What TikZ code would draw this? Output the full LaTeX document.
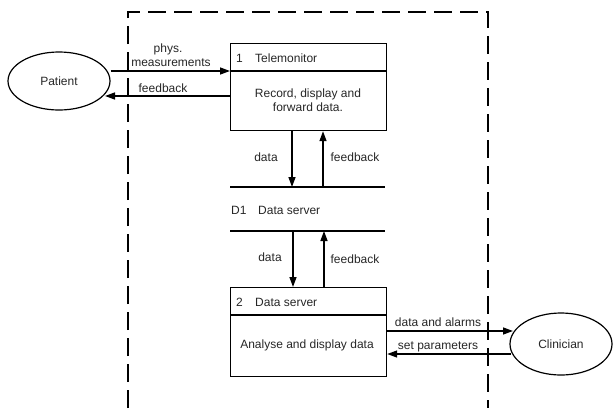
\documentclass[tikz,border=0pt]{standalone}
\usepackage{fontspec}
\setmainfont{Liberation Sans}
\usetikzlibrary{arrows.meta,shapes.geometric}
\begin{document}
\begin{tikzpicture}[x=1pt,y=-1pt,
  every node/.style={font=\fontsize{12}{14}\selectfont, text=black!85},
  ent/.style={draw, ellipse, line width=1.2pt, minimum width=102pt, minimum height=58pt, inner sep=0pt},
  proc/.style={draw, line width=1.2pt},
  flow/.style={line width=1.4pt, -{Triangle[length=10pt,width=7pt]}},
  lbl/.style={inner sep=0pt, anchor=base}]
\useasboundingbox (0,0) rectangle (613,408);
% system boundary
\draw[line width=1.4pt, dash pattern=on 18pt off 8pt] (128,408) -- (128,12) -- (488,12) -- (488,408);
% entities
\node[ent] (patient) at (59,81) {Patient};
\node[ent, minimum height=62pt] (clinician) at (561,344) {Clinician};
% process 1
\node[proc, minimum width=156pt, minimum height=87pt, anchor=north west] (p1) at (230,43) {};
\draw[line width=1.2pt] (230,71) -- (386,71);
\node[lbl, anchor=base west] (p1n) at (236,62) {1};
\node[lbl, anchor=base west] (p1t) at (255,62) {Telemonitor};
\node[align=center, inner sep=0pt] (p1b) at (308,100) {Record, display and\\forward data.};
% data store
\coordinate (d1a) at (230,187);
\coordinate (d1b) at (385,187);
\coordinate (d1c) at (230,231);
\coordinate (d1d) at (385,231);
\draw[line width=1.4pt] (d1a) -- (d1b);
\draw[line width=1.4pt] (d1c) -- (d1d);
\node[lbl, anchor=base west] (d1n) at (231,214) {D1};
\node[lbl, anchor=base west] (d1t) at (258,214) {Data server};
% process 2
\node[proc, minimum width=156pt, minimum height=89pt, anchor=north west] (p2) at (230,287) {};
\draw[line width=1.2pt] (230,315) -- (386,315);
\node[lbl, anchor=base west] (p2n) at (236,306) {2};
\node[lbl, anchor=base west] (p2t) at (255,306) {Data server};
\node[inner sep=0pt] (p2b) at (307,345) {Analyse and display data};
% flows patient <-> p1
\draw[flow] (patient.east |- 0,71) -- (p1.west |- 0,71);
\draw[flow] (p1.west |- 0,96) -- (105,96);
\node[lbl] (l1a) at (168,52) {phys.};
\node[lbl] (l1b) at (171,66) {measurements};
\node[lbl] (l2) at (163,92) {feedback};
% flows p1 <-> store
\draw[flow] (p1.south -| 292,0) -- (292,187);
\draw[flow] (323,187) -- (p1.south -| 323,0);
\node[lbl] (l3) at (266,161) {data};
\node[lbl] (l4) at (355,161) {feedback};
% flows store <-> p2
\draw[flow] (293,231) -- (p2.north -| 293,0);
\draw[flow] (p2.north -| 324,0) -- (324,231);
\node[lbl] (l5) at (270,261) {data};
\node[lbl] (l6) at (355,263) {feedback};
% flows p2 <-> clinician
\draw[flow] (p2.east |- 0,331) -- (513,331);
\draw[flow] (511,354) -- (p2.east |- 0,354);
\node[lbl] (l7) at (438,326) {data and alarms};
\node[lbl] (l8) at (438,349) {set parameters};
\end{tikzpicture}
\end{document}
